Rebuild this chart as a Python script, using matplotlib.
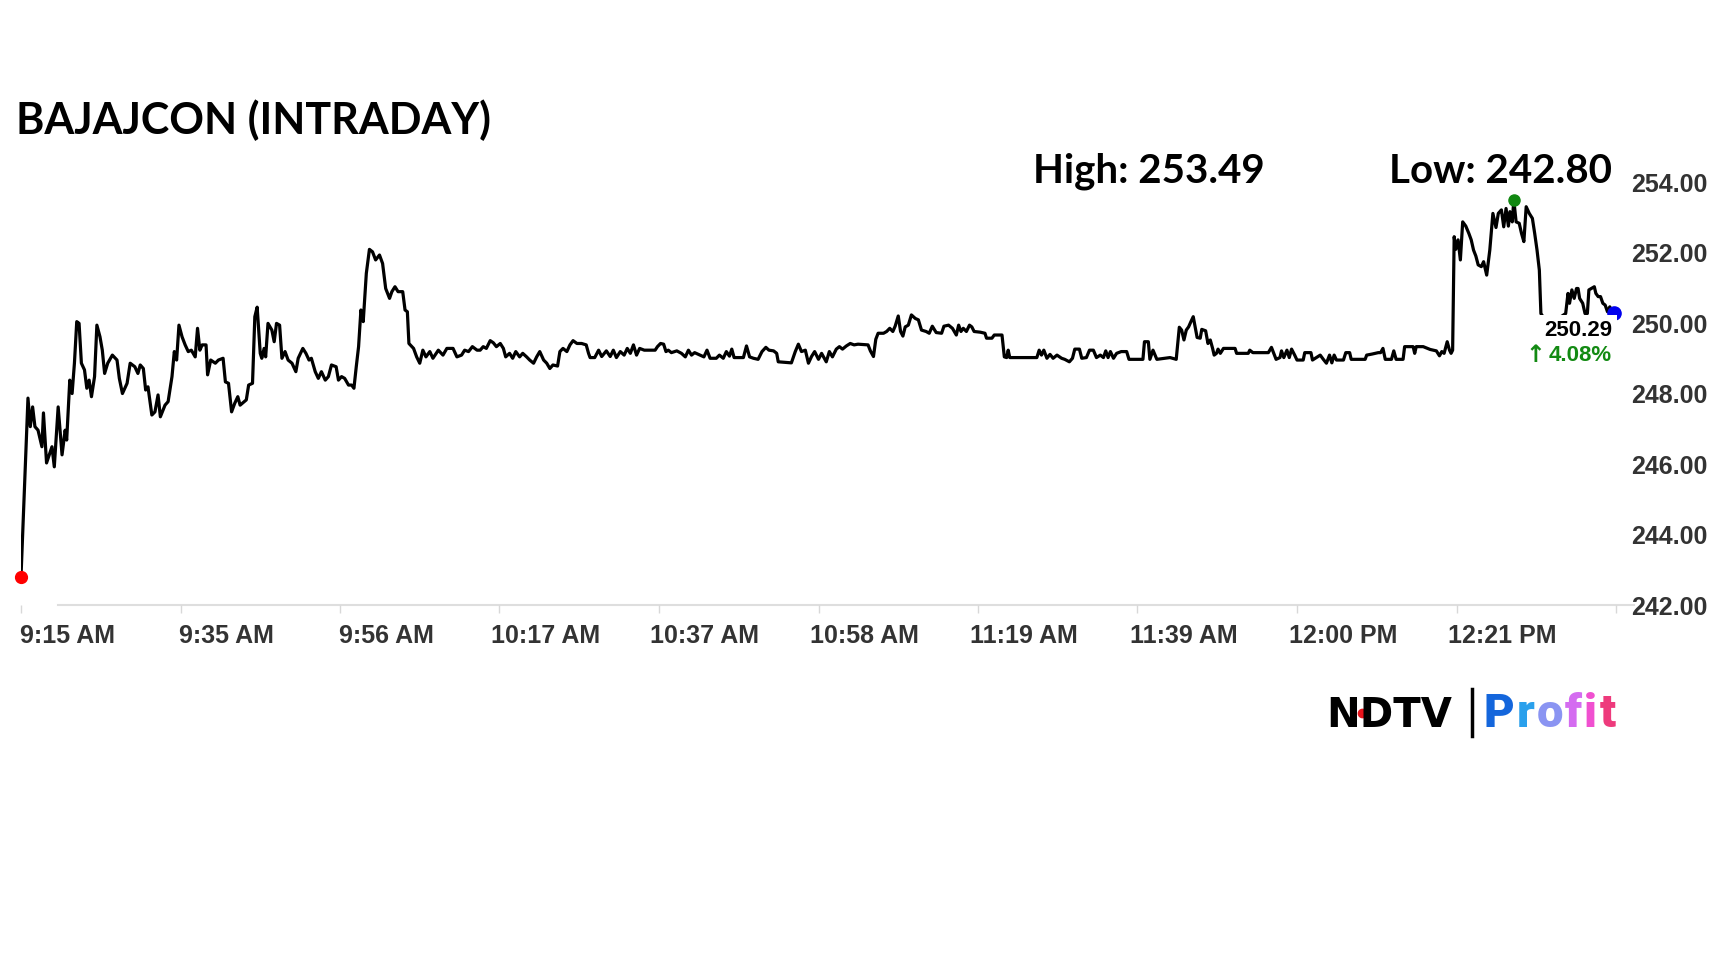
import matplotlib
matplotlib.use('Agg')
import matplotlib.pyplot as plt
import matplotlib.transforms as mtransforms
from matplotlib.lines import Line2D

# minutes after 9:15 AM
minutes = [
    0.0, 0.9, 1.2, 1.5, 1.8, 2.2, 2.7, 2.9, 3.3, 4.0, 4.3, 4.8, 5.3, 5.7, 5.9,
    6.3, 6.6, 6.9, 7.2, 7.5, 7.8, 8.2, 8.5, 8.8, 9.1, 9.5, 9.8, 10.2, 10.5, 10.8,
    11.2, 11.8, 12.4, 12.7, 13.1, 13.7, 14.1, 14.7, 15.1, 15.4, 15.8, 16.1, 16.4,
    16.9, 17.3, 17.7, 18.0, 18.6, 19.0, 19.5, 19.8, 20.1, 20.4, 20.8, 21.2, 21.6,
    22.0, 22.5, 22.8, 23.1, 23.4, 23.9, 24.1, 24.5, 25.1, 25.5, 26.1, 26.4, 26.8,
    27.2, 27.6, 28.0, 28.3, 29.1, 29.4, 29.9, 30.2, 30.5, 30.9, 31.1, 31.4, 31.6,
    31.9, 32.4, 32.7, 33.0, 33.4, 33.7, 34.1, 34.5, 35.0, 35.5, 35.8, 36.4, 36.8,
    37.2, 37.5, 38.0, 38.4, 38.8, 39.3, 39.7, 40.1, 40.7, 41.0, 41.4, 41.8, 42.3,
    42.7, 43.0, 43.3, 43.6, 43.9, 44.2, 44.6, 45.0, 45.4, 45.8, 46.3, 46.7, 47.1,
    47.6, 47.9, 48.3, 48.7, 49.3, 49.6, 49.9, 50.1, 50.7, 51.1, 51.5, 51.9, 52.3,
    52.8, 53.2, 53.9, 54.5, 55.0, 55.8, 56.3, 56.9, 57.3, 57.8, 58.3, 58.9, 59.3,
    59.7, 60.1, 60.6, 61.0, 61.4, 61.9, 62.3, 62.6, 63.1, 63.5, 63.9, 64.4, 64.8,
    65.3, 65.7, 66.2, 66.6, 67.0, 67.5, 67.9, 68.3, 68.7, 69.3, 69.6, 70.0, 70.5,
    70.9, 71.3, 71.8, 72.4, 73.0, 73.3, 73.5, 74.1, 74.6, 75.0, 75.6, 76.1, 76.5,
    76.9, 77.4, 77.9, 78.3, 78.7, 79.1, 79.5, 79.9, 80.5, 81.2, 81.9, 82.2, 82.6,
    83.0, 83.3, 83.6, 84.0, 84.7, 85.3, 85.8, 86.2, 86.6, 87.0, 87.7, 88.2, 88.6,
    89.0, 89.8, 90.2, 90.7, 91.1, 91.5, 91.8, 92.1, 93.3, 93.7, 94.1, 94.6, 95.2,
    95.7, 96.2, 96.6, 97.2, 97.6, 97.8, 99.5, 100.0, 100.4, 100.8, 101.3, 101.7,
    102.1, 102.5, 103.0, 103.4, 104.0, 104.4, 104.8, 105.3, 105.7, 106.1, 106.6,
    107.1, 107.6, 108.1, 109.4, 109.7, 110.1, 110.4, 110.7, 111.4, 111.8, 112.2,
    112.6, 112.9, 113.3, 113.6, 113.9, 114.2, 114.6, 115.0, 115.5, 115.9, 116.3,
    116.9, 117.3, 117.7, 118.2, 118.9, 119.2, 119.8, 120.3, 120.8, 121.1, 121.4,
    121.7, 122.1, 122.5, 122.8, 123.1, 123.9, 124.5, 124.7, 125.4, 125.7, 126.7,
    127.0, 127.3, 127.5, 127.7, 131.2, 131.5, 131.8, 132.1, 132.5, 132.9, 133.3,
    133.8, 134.4, 134.8, 135.4, 135.8, 136.1, 136.7, 137.0, 137.6, 138.0, 138.5,
    138.9, 139.4, 139.8, 140.1, 140.4, 140.7, 141.1, 141.5, 142.1, 142.8, 143.1,
    144.9, 145.1, 145.6, 145.8, 146.2, 146.7, 148.4, 149.2, 149.6, 149.9, 150.2,
    150.5, 150.8, 151.1, 151.4, 151.6, 151.9, 152.3, 152.5, 153.0, 153.3, 153.6,
    153.9, 154.1, 154.4, 154.6, 154.9, 155.3, 156.8, 157.0, 158.5, 158.7, 159.1,
    161.1, 161.5, 162.1, 162.6, 162.8, 163.1, 163.5, 163.8, 164.1, 164.5, 164.8,
    165.6, 165.8, 166.6, 166.8, 167.3, 167.8, 168.2, 168.6, 169.0, 169.3, 169.6,
    169.9, 170.8, 171.1, 171.6, 171.8, 173.6, 173.8, 174.5, 175.3, 175.6, 175.9,
    176.2, 177.0, 177.3, 177.6, 178.5, 178.7, 179.8, 180.0, 180.2, 181.1, 182.0,
    182.8, 183.2, 183.5, 183.8, 184.2, 184.5, 184.7, 184.9, 185.1, 185.3, 185.6,
    185.9, 186.2, 186.6, 187.0, 187.3, 187.6, 187.9, 188.2, 188.6, 188.9, 189.3,
    189.7, 190.1, 190.5, 190.8, 191.2, 191.5, 191.8, 192.1, 192.3, 192.6, 192.8,
    193.1, 193.5, 193.8, 194.1, 194.4, 194.8, 195.2, 195.5, 195.8, 196.1, 196.3,
    196.8, 197.7, 198.7, 199.5, 199.8, 200.0, 200.3, 200.6, 200.9, 201.1, 201.3,
    201.7, 202.0, 202.3, 202.5, 202.8, 203.2, 203.4, 203.7, 204.0, 204.3, 204.6,
    204.9, 205.2, 205.6, 205.8,
]

prices = [
    242.80, 247.87, 247.06, 247.62, 247.06, 246.96, 246.49, 247.45, 246.03, 246.49,
    245.92, 247.62, 246.26, 246.96, 246.68, 248.38, 248.00, 248.86, 250.04, 249.99,
    248.86, 248.67, 248.15, 248.38, 247.91, 248.48, 249.94, 249.61, 249.23, 248.57,
    248.86, 249.09, 248.95, 248.43, 248.00, 248.29, 248.86, 248.76, 248.57, 248.81,
    248.71, 248.10, 248.19, 247.39, 247.48, 247.96, 247.34, 247.67, 247.77, 248.48,
    249.19, 248.95, 249.94, 249.61, 249.38, 249.19, 249.23, 249.04, 249.85, 249.23,
    249.38, 249.38, 248.53, 248.95, 248.86, 248.95, 249.00, 248.33, 248.29, 247.48,
    247.72, 247.91, 247.67, 247.82, 248.24, 248.29, 250.18, 250.45, 249.14, 249.00,
    249.28, 249.04, 249.99, 249.80, 249.47, 249.99, 249.94, 249.00, 249.19, 248.95,
    248.86, 248.62, 249.00, 249.28, 249.14, 248.95, 249.00, 248.62, 248.43, 248.62,
    248.38, 248.48, 248.81, 248.76, 248.38, 248.48, 248.43, 248.24, 248.24, 248.15,
    248.76, 249.33, 250.37, 250.04, 251.41, 252.09, 252.02, 251.79, 251.93, 251.69,
    250.98, 250.70, 250.89, 251.03, 250.89, 250.89, 250.37, 250.32, 249.42, 249.28,
    249.04, 248.86, 249.23, 249.04, 249.19, 249.00, 249.23, 249.09, 249.28, 249.28,
    249.04, 249.09, 249.23, 249.19, 249.33, 249.23, 249.23, 249.33, 249.28, 249.50,
    249.44, 249.33, 249.42, 249.28, 249.04, 249.14, 249.00, 249.19, 249.04, 249.14,
    249.04, 248.95, 248.86, 249.04, 249.19, 248.95, 248.86, 248.71, 248.81, 248.78,
    249.19, 249.28, 249.19, 249.38, 249.50, 249.42, 249.42, 249.38, 249.14, 249.02,
    249.02, 249.23, 249.05, 249.21, 249.05, 249.23, 249.02, 249.19, 249.09, 249.28,
    249.14, 249.38, 249.09, 249.28, 249.23, 249.23, 249.23, 249.33, 249.42, 249.40,
    249.19, 249.23, 249.16, 249.21, 249.14, 249.04, 249.23, 249.09, 249.16, 249.09,
    249.04, 249.23, 249.00, 249.00, 249.09, 249.00, 249.19, 249.06, 249.26, 249.02,
    249.02, 249.35, 249.04, 249.00, 248.97, 249.19, 249.31, 249.23, 249.21, 249.14,
    248.90, 248.87, 249.19, 249.40, 249.19, 249.23, 248.86, 249.05, 249.19, 248.97,
    249.14, 248.90, 249.19, 249.04, 249.26, 249.33, 249.26, 249.35, 249.42, 249.38,
    249.40, 249.38, 249.21, 249.05, 249.54, 249.71, 249.71, 249.76, 249.85, 249.76,
    249.91, 250.20, 249.76, 249.63, 249.89, 249.94, 250.23, 250.13, 250.09, 249.80,
    249.76, 249.71, 249.91, 249.73, 249.71, 249.91, 249.94, 249.85, 249.66, 249.94,
    249.76, 249.85, 249.76, 249.94, 249.89, 249.76, 249.74, 249.71, 249.57, 249.57,
    249.66, 249.66, 249.04, 249.02, 249.23, 249.02, 249.02, 249.23, 249.09, 249.23,
    249.00, 249.11, 249.00, 249.09, 249.00, 248.97, 248.90, 249.00, 249.26, 249.26,
    249.00, 249.02, 249.23, 249.23, 249.02, 249.09, 249.02, 249.21, 249.02, 249.19,
    249.00, 249.14, 249.19, 249.19, 248.97, 248.97, 249.47, 249.47, 248.97, 249.23,
    248.97, 249.02, 248.97, 249.88, 249.80, 249.52, 249.80, 249.89, 250.04, 250.18,
    249.94, 249.59, 249.57, 249.82, 249.78, 249.42, 249.52, 249.28, 249.09, 249.14,
    249.26, 249.14, 249.28, 249.28, 249.14, 249.14, 249.23, 249.16, 249.16, 249.31,
    248.97, 249.02, 249.21, 249.02, 249.23, 249.02, 249.26, 249.09, 248.95, 248.95,
    249.16, 249.16, 248.95, 249.02, 249.09, 248.97, 248.86, 249.09, 248.87, 249.09,
    248.95, 248.95, 249.16, 249.16, 248.97, 248.97, 249.09, 249.12, 249.16, 249.16,
    249.28, 248.97, 248.97, 249.21, 248.97, 248.97, 249.33, 249.33, 249.14, 249.33,
    249.33, 249.25, 249.21, 249.07, 249.19, 249.14, 249.47, 249.23, 249.14, 249.23,
    252.45, 252.09, 252.36, 251.79, 252.87, 252.75, 252.54, 252.36, 252.07, 251.90,
    251.65, 251.60, 251.74, 251.36, 252.07, 253.11, 252.71, 253.11, 253.21, 252.73,
    253.25, 252.75, 253.16, 252.87, 253.49, 252.87, 252.83, 252.54, 252.31, 253.30,
    253.11, 252.97, 252.54, 252.07, 251.50, 250.27, 250.10, 250.05, 250.15, 250.27,
    250.84, 250.56, 250.94, 250.70, 250.98, 250.98, 250.70, 250.56, 250.27, 250.27,
    250.94, 250.98, 251.03, 250.84, 250.75, 250.75, 250.56, 250.51, 250.32, 250.46,
    250.27, 250.29,
]

tick_minutes = [0, 20.6, 41.2, 61.8, 82.4, 103.0, 123.6, 144.2, 164.8, 185.4, 206.0]
tick_labels = ['9:15 AM', '9:35 AM', '9:56 AM', '10:17 AM', '10:37 AM', '10:58 AM',
               '11:19 AM', '11:39 AM', '12:00 PM', '12:21 PM', '']
price_ticks = [242, 244, 246, 248, 250, 252, 254]

title = 'BAJAJCON (INTRADAY)'
day_high = 253.49
day_low = 242.80
change_pct = 4.08

W, H = 1728, 972
fig = plt.figure(figsize=(W / 100, H / 100), dpi=100)
ax = fig.add_axes([21 / W, (H - 605) / H, (1616 - 21) / W, (605 - 175) / H])
ax.set_xlim(0, 206)
ax.set_ylim(242, 254.2)
for s in ax.spines.values():
    s.set_visible(False)

ax.plot(minutes, prices, color='black', lw=2.3, zorder=3)

# baseline
ax.plot([0.023, 1.011], [0, 0], transform=ax.transAxes, clip_on=False,
        color='#dedede', lw=1.5, zorder=1)

tick_font = ['Liberation Sans', 'DejaVu Sans']
ax.set_xticks(tick_minutes, tick_labels)
ax.tick_params(axis='x', length=6, width=1, color='#d8d8d8', pad=8,
               labelsize=18, labelcolor='#333333')
shift = mtransforms.ScaledTranslation(0.46, 0, fig.dpi_scale_trans)
for lbl in ax.get_xticklabels():
    lbl.set_fontfamily(tick_font)
    lbl.set_fontweight('bold')
    lbl.set_transform(lbl.get_transform() + shift)

ax.yaxis.tick_right()
ax.set_yticks(price_ticks, [f'{p:.2f}' for p in price_ticks])
ax.tick_params(axis='y', length=0, pad=11, labelsize=18, labelcolor='#333333')
for lbl in ax.get_yticklabels():
    lbl.set_fontfamily(tick_font)
    lbl.set_fontweight('bold')

# markers: low (start), high, last
i_hi = prices.index(max(prices))
i_lo = prices.index(min(prices))
ax.plot(minutes[i_lo], prices[i_lo], 'o', color='#ff0000', ms=8.5, clip_on=False, zorder=5)
ax.plot(minutes[i_hi], prices[i_hi], 'o', color='#118811', ms=8, clip_on=False, zorder=5)
ax.plot(minutes[-1], prices[-1], 'o', color='#0000ee', ms=9.5, clip_on=False, zorder=4)

last = (minutes[-1], prices[-1])
ax.annotate(f'{prices[-1]:.2f}', xy=last, xytext=(-1.5, -12.5),
            textcoords='offset points', ha='right', va='center', fontsize=16,
            fontweight='bold', family=tick_font, color='black', zorder=6,
            bbox=dict(boxstyle='square,pad=0.2', fc='white', ec='none'))
ax.annotate(f'{change_pct:.2f}%', xy=last, xytext=(-2, -30.5),
            textcoords='offset points', ha='right', va='center', fontsize=16,
            fontweight='bold', family=tick_font, color='#138a13', zorder=6,
            bbox=dict(boxstyle='square,pad=0.3', fc='white', ec='none'))
ax.annotate('\u2191', xy=last, xytext=(-57, -30.5),
            textcoords='offset points', ha='center', va='center', fontsize=17,
            fontweight='bold', family='DejaVu Sans', color='#138a13', zorder=7)

# headings
head_font = ['Lato', 'DejaVu Sans']
fig.text(16 / W, 1 - 134 / H, title, fontsize=31, fontweight='bold',
         family=head_font, va='baseline', ha='left', color='black')
fig.text(1033 / W, 1 - 183 / H, f'High: {day_high:.2f}', fontsize=29, fontweight='bold',
         family=head_font, va='baseline', ha='left', color='black')
fig.text(1612 / W, 1 - 183 / H, f'Low: {day_low:.2f}', fontsize=29, fontweight='bold',
         family=head_font, va='baseline', ha='right', color='black')

# logo
fig.text(1326 / W, 1 - 727 / H, 'NDTV', fontsize=29, fontweight='bold',
         family='DejaVu Sans', va='baseline', ha='left', color='black')
fig.add_artist(Line2D([1362 / W], [1 - 713 / H], marker='o', ms=6, color='#e8141c',
                      transform=fig.transFigure))
fig.add_artist(Line2D([1472 / W, 1472 / W], [1 - 689 / H, 1 - 736 / H], color='black',
                      lw=2.5, transform=fig.transFigure))
profit_colors = ['#1466dc', '#2aa0ec', '#8a94f2', '#d46cf0', '#f050d0', '#ee3a7c']
renderer = fig.canvas.get_renderer()
x = 1484
for ch, col in zip('Profit', profit_colors):
    t = fig.text(x / W, 1 - 727 / H, ch, fontsize=34, fontweight='heavy',
                 family=['Roboto', 'DejaVu Sans'], va='baseline', ha='left', color=col)
    x += t.get_window_extent(renderer).width + 2

fig.savefig('out.png', dpi=100)
